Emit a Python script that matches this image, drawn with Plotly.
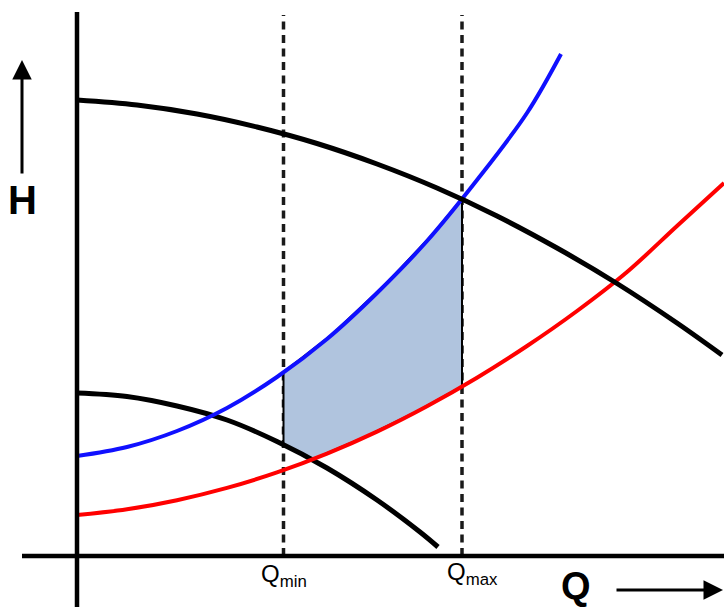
import numpy as np
import plotly.graph_objects as go

# ---- data (Q = flow, H = head, arbitrary units) ----
Q_pump_hi = [0, 6, 12, 18, 24, 30, 36, 42, 48, 54, 60, 64.5]
H_pump_hi = [45.6, 45.1, 44.2, 42.9, 41.25, 39.2, 36.8, 34.0, 30.8, 27.25, 23.3, 20.1]

Q_pump_lo = [0, 5, 10, 15, 20, 25, 30, 34.3, 36.1]
H_pump_lo = [16.3, 15.95, 15.0, 13.6, 11.45, 8.8, 5.6, 2.4, 0.9]

Q_sys_hi = [0, 5, 10, 15, 20, 25, 30, 35, 40, 45, 48.4]
H_sys_hi = [10.0, 10.9, 12.5, 14.8, 17.9, 21.7, 26.3, 31.5, 37.6, 44.3, 50.2]

Q_sys_lo = [0, 5, 10, 15, 20, 25, 30, 35, 40, 45, 50, 55, 60, 64.7]
H_sys_lo = [4.1, 4.67, 5.58, 6.81, 8.36, 10.24, 12.44, 14.98, 17.83, 21.0, 24.5, 28.4, 33.0, 37.3]

Q_MIN = 20.65
Q_MAX = 38.5
DASH_TOP = 54.1

# ---- operating region (derived from the curves) ----
q = np.linspace(Q_MIN, Q_MAX, 80)
top = np.interp(q, Q_sys_hi, H_sys_hi)
bottom = np.maximum(np.interp(q, Q_sys_lo, H_sys_lo), np.interp(q, Q_pump_lo, H_pump_lo))
poly_x = np.concatenate([q, q[::-1], [q[0]]])
poly_y = np.concatenate([top, bottom[::-1], [top[0]]])

fig = go.Figure()

# dashed limits
for qv in (Q_MIN, Q_MAX):
    fig.add_trace(go.Scatter(x=[qv, qv], y=[0, DASH_TOP], mode="lines",
                             line=dict(color="#1a1a1a", width=3.5, dash="8px,5.5px"),
                             hoverinfo="skip", showlegend=False))

fig.add_trace(go.Scatter(x=poly_x, y=poly_y, mode="lines", fill="toself",
                         fillcolor="#b0c4de", line=dict(color="black", width=2),
                         hoverinfo="skip", showlegend=False))

fig.add_trace(go.Scatter(x=Q_pump_lo, y=H_pump_lo, mode="lines", line_shape="spline",
                         line=dict(color="black", width=5), showlegend=False))
fig.add_trace(go.Scatter(x=Q_sys_lo, y=H_sys_lo, mode="lines", line_shape="spline",
                         line=dict(color="#ff0000", width=4), showlegend=False))
fig.add_trace(go.Scatter(x=Q_sys_hi, y=H_sys_hi, mode="lines", line_shape="spline",
                         line=dict(color="#1010ff", width=4), showlegend=False))
fig.add_trace(go.Scatter(x=Q_pump_hi, y=H_pump_hi, mode="lines", line_shape="spline",
                         line=dict(color="black", width=5), showlegend=False))

# axes lines
fig.add_shape(type="line", x0=0, x1=0, y0=54.4, y1=-5.2, xref="x", yref="y",
              line=dict(color="black", width=4.5))
fig.add_shape(type="line", x0=-5.5, x1=64.8, y0=0, y1=0, xref="x", yref="y",
              line=dict(color="black", width=4.5))

font_main = dict(family="Liberation Sans, Arial, sans-serif", color="black")

fig.add_annotation(x=-5.5, y=35.6, text="<b>H</b>", showarrow=False,
                   font=dict(size=40, **font_main), xanchor="center", yanchor="middle")
fig.add_annotation(x=-5.5, y=49.6, ax=-5.5, ay=38.1, axref="x", ayref="y",
                   xref="x", yref="y", text="", showarrow=True,
                   arrowhead=2, arrowsize=1.3, arrowwidth=3, arrowcolor="black")
fig.add_annotation(x=49.9, y=-3.0, text="<b>Q</b>", showarrow=False,
                   font=dict(size=38, **font_main), xanchor="center", yanchor="middle")
fig.add_annotation(x=64.6, y=-3.4, ax=53.8, ay=-3.4, axref="x", ayref="y",
                   xref="x", yref="y", text="", showarrow=True,
                   arrowhead=2, arrowsize=1.3, arrowwidth=3, arrowcolor="black")
fig.add_annotation(x=Q_MIN, y=-1.9, text="Q<sub>min</sub>", showarrow=False,
                   font=dict(size=24, **font_main), xanchor="center", yanchor="middle")
fig.add_annotation(x=39.5, y=-1.7, text="Q<sub>max</sub>", showarrow=False,
                   font=dict(size=24, **font_main), xanchor="center", yanchor="middle")

fig.update_layout(width=724, height=607, margin=dict(l=0, r=0, t=0, b=0),
                  paper_bgcolor="white", plot_bgcolor="white",
                  xaxis=dict(range=[-7.7, 64.7], visible=False, fixedrange=True),
                  yaxis=dict(range=[-5.1, 55.6], visible=False, fixedrange=True))

fig.write_html("out.html", config={"displayModeBar": False},
               post_script="document.body.style.margin='0';document.body.style.overflow='hidden';")
